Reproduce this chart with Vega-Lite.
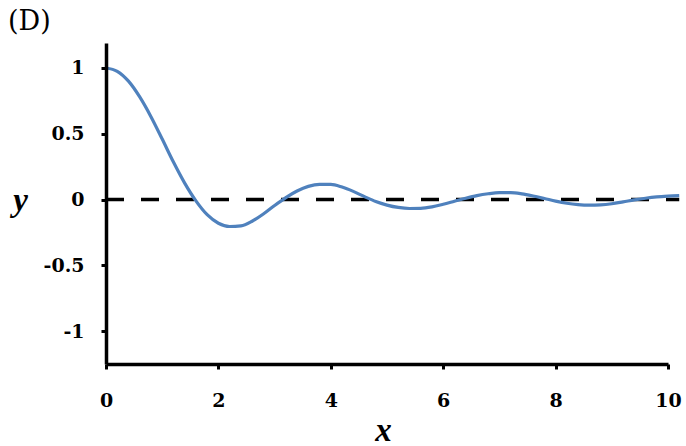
{
  "$schema": "https://vega.github.io/schema/vega-lite/v6.json",
  "width": 562,
  "height": 321,
  "autosize": {"type": "none"},
  "padding": {"left": 106, "top": 43, "right": 18, "bottom": 82},
  "background": "white",
  "config": {"view": {"stroke": null}},
  "title": {
    "text": "(D)",
    "anchor": "start",
    "frame": "group",
    "dx": -98,
    "offset": -20,
    "baseline": "bottom",
    "font": "DejaVu Serif",
    "fontSize": 27,
    "fontWeight": "normal",
    "color": "black"
  },
  "datasets": {
    "curve": [
      {"x": 0, "y": 1}, {"x": 0.2, "y": 0.975}, {"x": 0.4, "y": 0.9}, {"x": 0.6, "y": 0.78},
      {"x": 0.8, "y": 0.63}, {"x": 1.0, "y": 0.46}, {"x": 1.2, "y": 0.285}, {"x": 1.4, "y": 0.125},
      {"x": 1.6, "y": -0.01}, {"x": 1.8, "y": -0.115}, {"x": 2.0, "y": -0.18}, {"x": 2.2, "y": -0.205},
      {"x": 2.4, "y": -0.2}, {"x": 2.6, "y": -0.165}, {"x": 2.8, "y": -0.11}, {"x": 3.0, "y": -0.045},
      {"x": 3.2, "y": 0.015}, {"x": 3.4, "y": 0.065}, {"x": 3.6, "y": 0.1}, {"x": 3.8, "y": 0.115},
      {"x": 4.0, "y": 0.115}, {"x": 4.2, "y": 0.095}, {"x": 4.4, "y": 0.062}, {"x": 4.6, "y": 0.022},
      {"x": 4.8, "y": -0.015}, {"x": 5.0, "y": -0.042}, {"x": 5.2, "y": -0.06}, {"x": 5.4, "y": -0.068},
      {"x": 5.6, "y": -0.067}, {"x": 5.8, "y": -0.056}, {"x": 6.0, "y": -0.036}, {"x": 6.2, "y": -0.013},
      {"x": 6.4, "y": 0.01}, {"x": 6.6, "y": 0.03}, {"x": 6.8, "y": 0.044}, {"x": 7.0, "y": 0.052},
      {"x": 7.2, "y": 0.052}, {"x": 7.4, "y": 0.043}, {"x": 7.6, "y": 0.027}, {"x": 7.8, "y": 0.008},
      {"x": 8.0, "y": -0.012}, {"x": 8.2, "y": -0.028}, {"x": 8.4, "y": -0.038}, {"x": 8.6, "y": -0.042},
      {"x": 8.8, "y": -0.04}, {"x": 9.0, "y": -0.032}, {"x": 9.2, "y": -0.018}, {"x": 9.4, "y": -0.003},
      {"x": 9.6, "y": 0.01}, {"x": 9.8, "y": 0.02}, {"x": 10.0, "y": 0.026}, {"x": 10.2, "y": 0.03}
    ],
    "zero": [{"x": 0, "y": 0}, {"x": 10.2, "y": 0}]
  },
  "layer": [
    {
      "data": {"name": "zero"},
      "mark": {"type": "line", "color": "black", "strokeWidth": 3.5, "strokeDash": [18, 17]},
      "encoding": {
        "x": {"field": "x", "type": "quantitative"},
        "y": {"field": "y", "type": "quantitative"}
      }
    },
    {
      "data": {"name": "curve"},
      "mark": {"type": "line", "color": "#4f81bd", "strokeWidth": 3.2, "interpolate": "monotone"},
      "encoding": {
        "x": {
          "field": "x", "type": "quantitative",
          "scale": {"domain": [0, 10], "nice": false, "zero": false},
          "axis": {
            "values": [0, 2, 4, 6, 8, 10],
            "format": "d",
            "title": "x",
            "titleFont": "Liberation Serif",
            "titleFontStyle": "italic",
            "titleFontWeight": "bold",
            "titleFontSize": 33,
            "titleColor": "black",
            "titleX": 277,
            "titleY": 66,
            "titleAnchor": null,
            "titleAlign": "center",
            "titleBaseline": "middle",
            "labelFont": "DejaVu Serif",
            "labelFontWeight": "bold",
            "labelFontSize": 19,
            "labelColor": "black",
            "labelPadding": 22,
            "labelFlush": false,
            "domainColor": "black",
            "domainWidth": 3.5,
            "tickColor": "black",
            "tickWidth": 3,
            "tickSize": 5,
            "grid": false,
            "zindex": 1
          }
        },
        "y": {
          "field": "y", "type": "quantitative",
          "scale": {"domain": [-1.25, 1.19], "nice": false, "zero": false},
          "axis": {
            "values": [-1, -0.5, 0, 0.5, 1],
            "format": "~g",
            "labelExpr": "replace(datum.label, '\u2212', '-')",
            "title": "y",
            "titleAngle": 0,
            "titleFont": "Liberation Serif",
            "titleFontStyle": "italic",
            "titleFontWeight": "bold",
            "titleFontSize": 33,
            "titleColor": "black",
            "titleX": -86,
            "titleY": 157,
            "titleAnchor": null,
            "titleAlign": "center",
            "titleBaseline": "middle",
            "labelFont": "DejaVu Serif",
            "labelFontWeight": "bold",
            "labelFontSize": 19,
            "labelColor": "black",
            "labelPadding": 17,
            "labelFlush": false,
            "domainColor": "black",
            "domainWidth": 3.5,
            "tickColor": "black",
            "tickWidth": 3,
            "tickSize": 5,
            "grid": false,
            "zindex": 1
          }
        }
      }
    }
  ]
}
